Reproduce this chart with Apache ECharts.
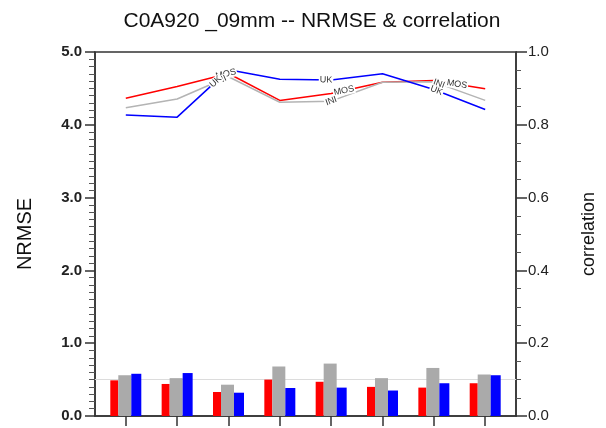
<!DOCTYPE html>
<html>
<head>
<meta charset="utf-8">
<script src="https://cdn.jsdelivr.net/npm/echarts@6/dist/echarts.min.js"></script>
<style>
  html, body { margin: 0; padding: 0; background: #fff; }
  #chart { width: 606px; height: 428px; }
</style>
</head>
<body>
<div id="chart"></div>
<script>
// stations / cases along the x axis (no labels in the original)
const categories = [0, 1, 2, 3, 4, 5, 6, 7];

// NRMSE (left axis, bars)
const nrmseMOS = [0.49, 0.44, 0.33, 0.50, 0.47, 0.40, 0.39, 0.45];
const nrmseINI = [0.56, 0.52, 0.43, 0.68, 0.72, 0.52, 0.66, 0.57];
const nrmseUK  = [0.58, 0.59, 0.32, 0.385, 0.39, 0.35, 0.45, 0.56];

// correlation (right axis, lines)
const corrMOS = [0.873, 0.905, 0.941, 0.867, 0.886, 0.917, 0.922, 0.899];
const corrINI = [0.847, 0.871, 0.932, 0.862, 0.865, 0.917, 0.918, 0.867];
const corrUK  = [0.827, 0.821, 0.951, 0.925, 0.923, 0.940, 0.897, 0.842];

// where the in-line labels sit (x position along each line)
const labelAtMOS = [1.95, 4.25, 6.45];
const labelAtINI = [1.85, 4.0, 6.1];
const labelAtUK  = [1.75, 3.9, 6.05];

const refLine = 0.5;
const FONT = '"Liberation Sans", Arial, sans-serif';

const chart = echarts.init(document.getElementById('chart'));

function pairs(vals) {
  return categories.map((c, i) => [c, vals[i]]);
}

function interp(vals, x) {
  const i = Math.min(Math.floor(x), vals.length - 2);
  const t = x - i;
  return vals[i] + (vals[i + 1] - vals[i]) * t;
}

function barSeries(name, vals, color, width) {
  return {
    name: name,
    type: 'bar',
    xAxisIndex: 0,
    yAxisIndex: 0,
    data: pairs(vals),
    barWidth: width,
    barGap: '0%',
    itemStyle: { color: color },
    z: 2,
    silent: true
  };
}

function lineSeries(name, vals, color, labelAt, rot) {
  return {
    name: name,
    type: 'line',
    xAxisIndex: 0,
    yAxisIndex: 1,
    data: pairs(vals),
    showSymbol: false,
    symbol: 'none',
    lineStyle: { color: color, width: 1.5 },
    z: 3,
    silent: true,
    markPoint: {
      symbol: 'circle',
      symbolSize: 1,
      itemStyle: { color: 'rgba(0,0,0,0)' },
      silent: true,
      label: {
        show: true,
        position: 'inside',
        fontFamily: FONT,
        fontSize: 9,
        color: '#333',
        backgroundColor: '#fff',
        padding: [0, 1],
        formatter: name
      },
      data: labelAt.map((x, k) => ({
        coord: [x, interp(vals, x)],
        label: { rotate: rot ? rot[k] : 0 }
      }))
    }
  };
}

function buildOption(rots) {
  rots = rots || {};
  const mos = barSeries('MOS', nrmseMOS, '#ff0000', 8);
  mos.markLine = {
    silent: true,
    symbol: 'none',
    z: 1,
    label: { show: false },
    lineStyle: { color: '#dcdcdc', type: 'solid', width: 1 },
    data: [{ yAxis: refLine }]
  };
  return {
    animation: false,
    backgroundColor: '#fff',
    title: {
      text: 'C0A920 _09mm -- NRMSE & correlation',
      left: 307,
      top: 6,
      textAlign: 'center',
      textStyle: { fontFamily: FONT, fontSize: 21, fontWeight: 'normal', color: '#111' }
    },
    grid: {
      left: 95, right: 87, top: 52, bottom: 12,
      show: true, borderColor: '#333', borderWidth: 1.5
    },
    xAxis: {
      type: 'value',
      min: -0.6,
      max: 7.6,
      axisLine: { show: true, onZero: false, lineStyle: { color: '#333', width: 1.5 } },
      axisTick: { show: true, customValues: categories, length: 10, lineStyle: { color: '#333', width: 1.5 } },
      axisLabel: { show: false },
      splitLine: { show: false }
    },
    yAxis: [
      {
        type: 'value',
        position: 'left',
        min: 0, max: 5, interval: 1,
        name: 'NRMSE',
        nameLocation: 'middle',
        nameGap: 60,
        nameTextStyle: { fontFamily: FONT, fontSize: 20, color: '#111' },
        axisLine: { show: true, onZero: false, lineStyle: { color: '#333', width: 1.5 } },
        axisTick: { show: true, length: 10, lineStyle: { color: '#333', width: 1.5 } },
        minorTick: { show: true, splitNumber: 10, length: 6, lineStyle: { color: '#555', width: 1 } },
        axisLabel: {
          fontFamily: FONT, fontSize: 15, fontWeight: 'bold', color: '#222', margin: 13,
          formatter: v => v.toFixed(1)
        },
        splitLine: { show: false }
      },
      {
        type: 'value',
        position: 'right',
        min: 0, max: 1, interval: 0.2,
        name: 'correlation',
        nameLocation: 'middle',
        nameGap: 64,
        nameTextStyle: { fontFamily: FONT, fontSize: 18, color: '#111' },
        axisLine: { show: true, onZero: false, lineStyle: { color: '#333', width: 1.5 } },
        axisTick: { show: true, length: 11, lineStyle: { color: '#333', width: 1.5 } },
        minorTick: { show: true, splitNumber: 4, length: 5, lineStyle: { color: '#555', width: 1 } },
        axisLabel: {
          fontFamily: FONT, fontSize: 15, color: '#222', margin: 12,
          formatter: v => v.toFixed(1)
        },
        splitLine: { show: false }
      }
    ],
    series: [
      mos,
      barSeries('INI', nrmseINI, '#aaaaaa', 13),
      barSeries('UK', nrmseUK, '#0000ff', 10),
      lineSeries('MOS', corrMOS, '#ff0000', labelAtMOS, rots.MOS),
      lineSeries('INI', corrINI, '#b4b4b4', labelAtINI, rots.INI),
      lineSeries('UK', corrUK, '#0000ff', labelAtUK, rots.UK)
    ]
  };
}

chart.setOption(buildOption());

// rotate the in-line labels along their segment
function rotations(vals, labelAt) {
  return labelAt.map(x => {
    const i = Math.min(Math.floor(x), vals.length - 2);
    const p1 = chart.convertToPixel({ xAxisIndex: 0, yAxisIndex: 1 }, [i, vals[i]]);
    const p2 = chart.convertToPixel({ xAxisIndex: 0, yAxisIndex: 1 }, [i + 1, vals[i + 1]]);
    return -Math.atan2(p2[1] - p1[1], p2[0] - p1[0]) * 180 / Math.PI;
  });
}

chart.setOption(buildOption({
  MOS: rotations(corrMOS, labelAtMOS),
  INI: rotations(corrINI, labelAtINI),
  UK: rotations(corrUK, labelAtUK)
}));
</script>
</body>
</html>
